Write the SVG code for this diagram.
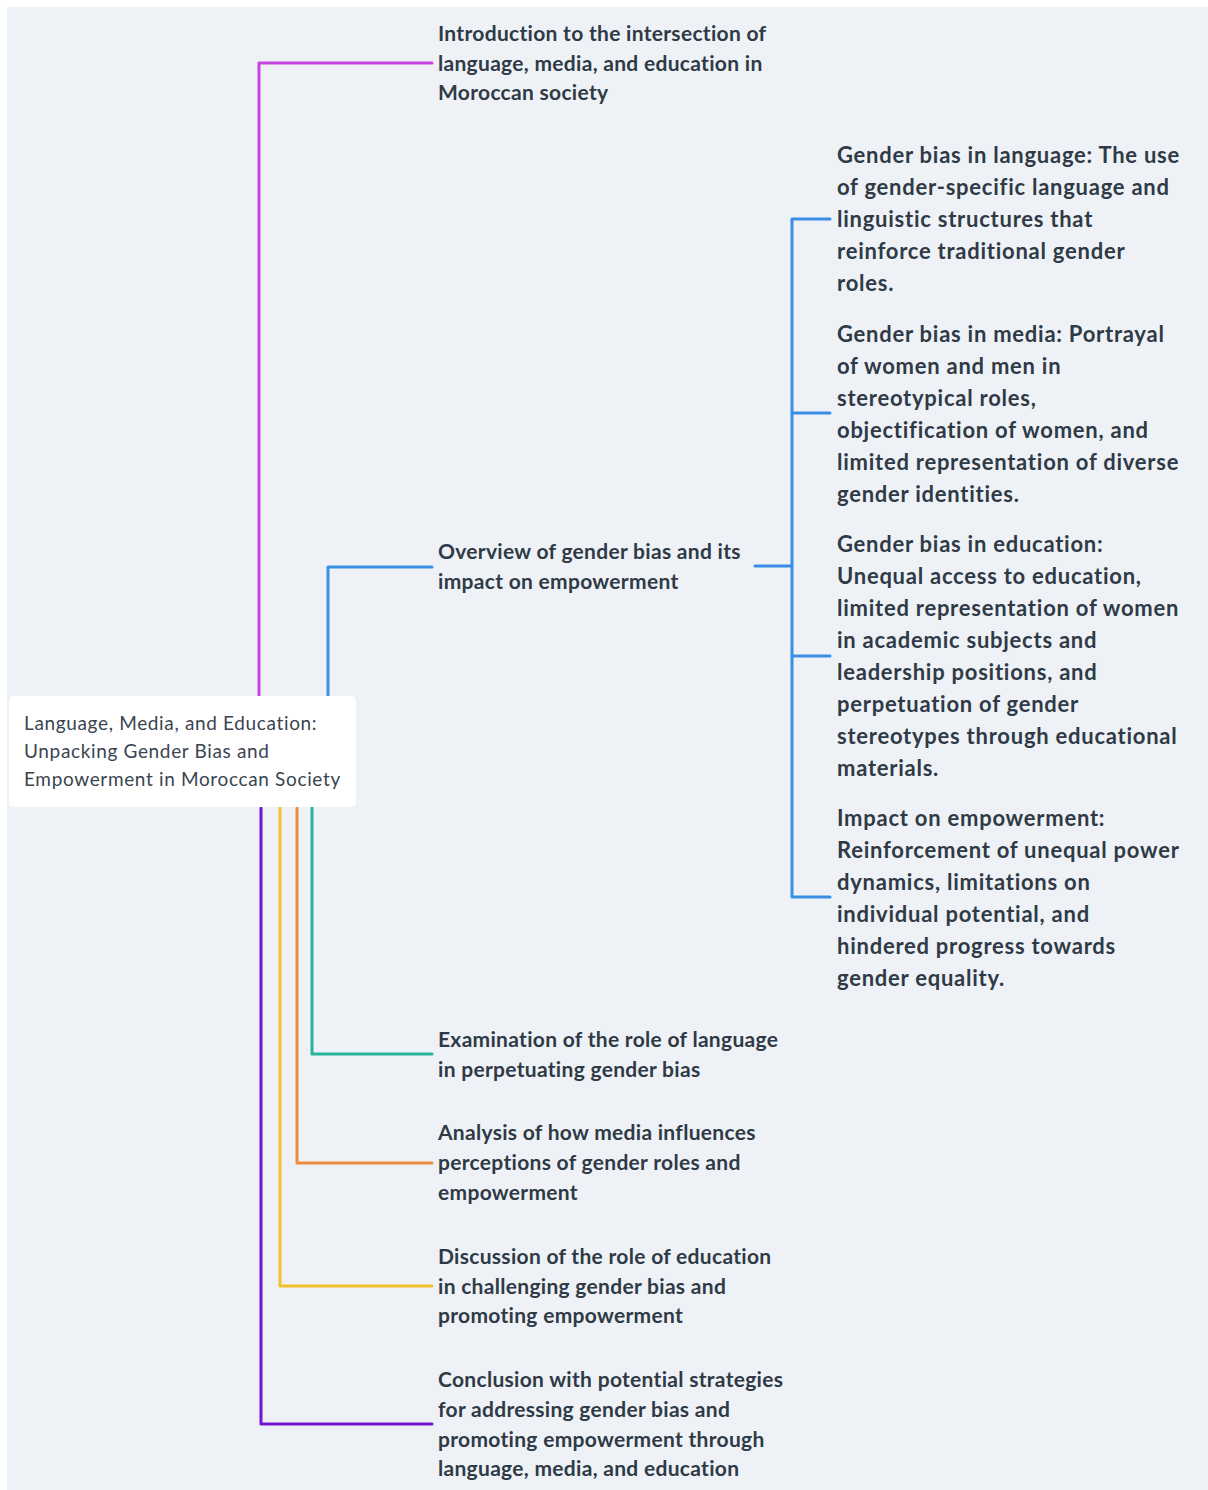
<svg xmlns="http://www.w3.org/2000/svg" width="1208" height="1490" viewBox="0 0 1208 1490">
<style>
.bg{fill:#eef2f6}
.c{fill:none;stroke-width:3;stroke-linejoin:round;stroke-linecap:round}
.t{font-family:Lato,"Noto Sans",sans-serif;font-weight:700;font-size:21px;letter-spacing:0.3px;fill:#2f3a46}
.r{font-family:Lato,"Noto Sans",sans-serif;font-weight:700;font-size:22px;letter-spacing:0.75px;fill:#2f3a46}
.root{font-family:Lato,"Noto Sans",sans-serif;font-size:19px;letter-spacing:0.65px;fill:#3a4451}
</style>
<rect width="1208" height="1490" fill="#ffffff"/>
<rect class="bg" x="7" y="7" width="1201" height="1483"/>
<g id="connectors">
<path class="c" stroke="#c844e0" d="M259 696 V63 H432"/>
<path class="c" stroke="#3a8ee6" d="M328 696 V567 H432"/>
<path class="c" stroke="#27b39a" d="M312 808 V1054 H432"/>
<path class="c" stroke="#f08a3e" d="M297 808 V1163 H432"/>
<path class="c" stroke="#f5c02c" d="M280 808 V1286 H432"/>
<path class="c" stroke="#7413d1" d="M261 808 V1424 H432"/>
<path class="c" stroke="#3a8ee6" d="M755 566 H792"/>
<path class="c" stroke="#3a8ee6" d="M830 219 H792 V897 H830"/>
<path class="c" stroke="#3a8ee6" d="M792 413 H830"/>
<path class="c" stroke="#3a8ee6" d="M792 656 H830"/>
</g>
<g id="root">
<rect x="9" y="696" width="347" height="111" rx="5" fill="#ffffff"/>
<text class="root" x="24"><tspan x="24" y="730">Language, Media, and Education:</tspan><tspan x="24" y="758">Unpacking Gender Bias and</tspan><tspan x="24" y="786">Empowerment in Moroccan Society</tspan></text>
</g>
<g id="intro">
<text class="t"><tspan x="438" y="41">Introduction to the intersection of</tspan><tspan x="438" y="71">language, media, and education in</tspan><tspan x="438" y="100">Moroccan society</tspan></text>
</g>
<g id="overview">
<text class="t"><tspan x="438" y="559">Overview of gender bias and its</tspan><tspan x="438" y="589">impact on empowerment</tspan></text>
</g>
<g id="bias-language">
<text class="r"><tspan x="837" y="163">Gender bias in language: The use</tspan><tspan x="837" y="195">of gender-specific language and</tspan><tspan x="837" y="227">linguistic structures that</tspan><tspan x="837" y="259">reinforce traditional gender</tspan><tspan x="837" y="291">roles.</tspan></text>
</g>
<g id="bias-media">
<text class="r"><tspan x="837" y="342">Gender bias in media: Portrayal</tspan><tspan x="837" y="374">of women and men in</tspan><tspan x="837" y="406">stereotypical roles,</tspan><tspan x="837" y="438">objectification of women, and</tspan><tspan x="837" y="470">limited representation of diverse</tspan><tspan x="837" y="502">gender identities.</tspan></text>
</g>
<g id="bias-education">
<text class="r"><tspan x="837" y="552">Gender bias in education:</tspan><tspan x="837" y="584">Unequal access to education,</tspan><tspan x="837" y="616">limited representation of women</tspan><tspan x="837" y="648">in academic subjects and</tspan><tspan x="837" y="680">leadership positions, and</tspan><tspan x="837" y="712">perpetuation of gender</tspan><tspan x="837" y="744">stereotypes through educational</tspan><tspan x="837" y="776">materials.</tspan></text>
</g>
<g id="impact">
<text class="r"><tspan x="837" y="826">Impact on empowerment:</tspan><tspan x="837" y="858">Reinforcement of unequal power</tspan><tspan x="837" y="890">dynamics, limitations on</tspan><tspan x="837" y="922">individual potential, and</tspan><tspan x="837" y="954">hindered progress towards</tspan><tspan x="837" y="986">gender equality.</tspan></text>
</g>
<g id="examination">
<text class="t"><tspan x="438" y="1047">Examination of the role of language</tspan><tspan x="438" y="1077">in perpetuating gender bias</tspan></text>
</g>
<g id="analysis">
<text class="t"><tspan x="438" y="1140">Analysis of how media influences</tspan><tspan x="438" y="1170">perceptions of gender roles and</tspan><tspan x="438" y="1200">empowerment</tspan></text>
</g>
<g id="discussion">
<text class="t"><tspan x="438" y="1264">Discussion of the role of education</tspan><tspan x="438" y="1294">in challenging gender bias and</tspan><tspan x="438" y="1323">promoting empowerment</tspan></text>
</g>
<g id="conclusion">
<text class="t"><tspan x="438" y="1387">Conclusion with potential strategies</tspan><tspan x="438" y="1417">for addressing gender bias and</tspan><tspan x="438" y="1447">promoting empowerment through</tspan><tspan x="438" y="1476">language, media, and education</tspan></text>
</g>
</svg>
